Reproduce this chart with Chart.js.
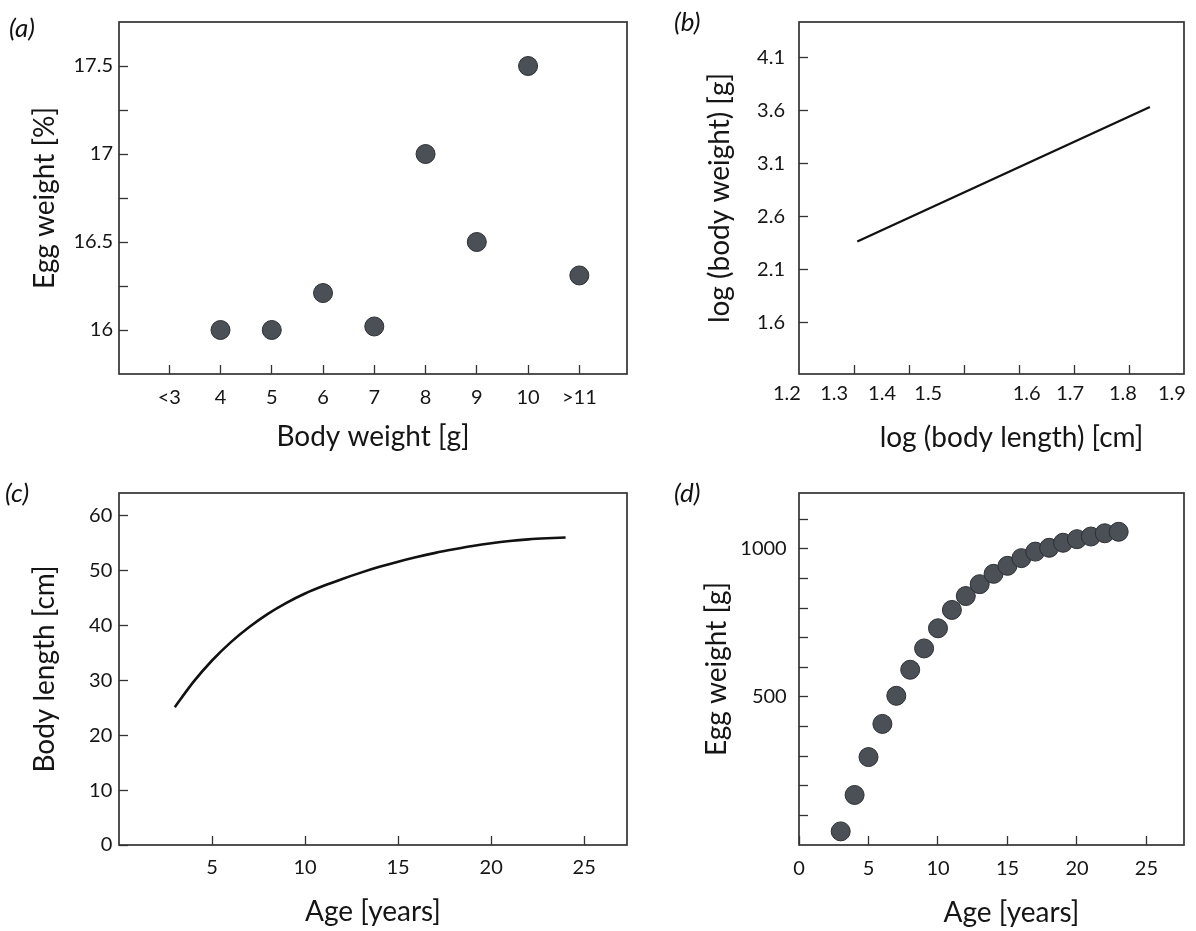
<!DOCTYPE html>
<html>
<head>
<meta charset="utf-8">
<title>Egg weight, body weight and age</title>
<script src="https://cdn.jsdelivr.net/npm/chart.js@4.4.1/dist/chart.umd.min.js"></script>
<style>
  html, body { margin: 0; padding: 0; background: #fff; }
  #page { position: relative; width: 1196px; height: 931px; }
  canvas { position: absolute; }
  .tag { position: absolute; font: italic 26px Lato, sans-serif; color: #111; line-height: 30px; }
</style>
</head>
<body>
<div id="page">
  <canvas id="chartA" width="640" height="466" style="left:0;top:0"></canvas>
  <canvas id="chartB" width="556" height="466" style="left:640px;top:0"></canvas>
  <canvas id="chartC" width="640" height="465" style="left:0;top:466px"></canvas>
  <canvas id="chartD" width="556" height="465" style="left:640px;top:466px"></canvas>
  <div class="tag" style="left:9px;top:12px">(a)</div>
  <div class="tag" style="left:674px;top:6px">(b)</div>
  <div class="tag" style="left:5px;top:477px">(c)</div>
  <div class="tag" style="left:674px;top:477px">(d)</div>
</div>
<script>
// ---- (a) egg weight [%] per body weight class
const aCategories = ['<3', '4', '5', '6', '7', '8', '9', '10', '>11'];
const aEggPct = [null, 16.0, 16.0, 16.21, 16.02, 17.0, 16.5, 17.5, 16.31];
const aYTicks = [16, 16.25, 16.5, 16.75, 17, 17.25, 17.5];
const aYLabels = ['16', '', '16.5', '', '17', '', '17.5'];

// ---- (b) log body weight vs log body length (fitted line)
const bLogLength = [1.306, 1.838];
const bLogWeight = [2.363, 3.636];
const bXTicks = [1.3, 1.4, 1.5, 1.6, 1.7, 1.8];
const bXLabels = ['1.2', '1.3', '1.4', '1.5', '1.6', '1.7', '1.8', '1.9'];
const bXLabelAt = [1.178, 1.264, 1.351, 1.435, 1.614, 1.693, 1.789, 1.878];
const bYTicks = [1.6, 2.1, 2.6, 3.1, 3.6, 4.1];

// ---- (c) body length [cm] by age
const cAge = [3, 4, 5, 6, 7, 8, 9, 10, 11, 12, 13, 14, 15, 16, 17, 18, 19, 20, 21, 22, 23, 24];
const cLength = [25.1, 29.7, 33.6, 36.9, 39.7, 42.1, 44.1, 45.8, 47.2, 48.45, 49.6, 50.65,
                 51.6, 52.45, 53.2, 53.85, 54.45, 54.95, 55.35, 55.65, 55.85, 56.0];
const cXTicks = [5, 10, 15, 20, 25];
const cYTicks = [0, 10, 20, 30, 40, 50, 60];

// ---- (d) egg weight [g] by age
const dAge = [3, 4, 5, 6, 7, 8, 9, 10, 11, 12, 13, 14, 15, 16, 17, 18, 19, 20, 21, 22, 23];
const dEggWeight = [46, 169, 297, 409, 504, 592, 664, 732, 794, 841, 881, 916, 943, 969,
                    991, 1004, 1021, 1033, 1042, 1053, 1058];
const dXTicks = [0, 5, 10, 15, 20, 25];
const dYTicks = [100, 200, 300, 400, 500, 600, 700, 800, 900, 1000, 1100];
const dYLabelled = [500, 1000];

const INK = '#151515';
const FRAME = '#333';
const DOT = '#4b4f56';
const DOT_EDGE = '#2c2f34';
const tickFont = { family: 'Lato', size: 20 };

// fixed axis sizes so every chart area lands where the original boxes are
function fixedSize(prop, size) {
  return scale => {
    scale[prop] = size;
    scale.paddingLeft = scale.paddingRight = scale.paddingTop = scale.paddingBottom = 0;
  };
}

// ticks drawn inward (negative tick length), no grid inside the plot
function axis(o) {
  const horizontal = o.position === 'bottom';
  return {
    type: 'linear',
    position: o.position,
    weight: o.weight || 0,
    min: o.min,
    max: o.max,
    afterBuildTicks: s => { s.ticks = o.ticks.map(v => ({ value: v })); },
    afterFit: fixedSize(horizontal ? 'height' : 'width', o.size),
    grid: {
      display: o.marks !== false,
      drawOnChartArea: false,
      drawTicks: o.marks !== false,
      tickLength: -9,
      tickColor: FRAME,
      tickWidth: 1.3
    },
    border: { display: false },
    ticks: {
      display: o.labels !== undefined,
      padding: o.pad,
      color: INK,
      font: tickFont,
      autoSkip: false,
      maxRotation: 0,
      callback: (v, i) => o.labels ? o.labels[i] : ''
    }
  };
}

const panelPlugin = {
  id: 'panel',
  afterDraw(chart, args, opts) {
    const { ctx, chartArea: a } = chart;
    ctx.save();
    ctx.strokeStyle = FRAME;
    ctx.lineWidth = 1.7;
    ctx.strokeRect(a.left, a.top, a.right - a.left, a.bottom - a.top);
    ctx.fillStyle = INK;
    ctx.font = '28px Lato';
    ctx.textAlign = 'center';
    ctx.textBaseline = 'middle';
    ctx.fillText(opts.xTitle, (a.left + a.right) / 2 + opts.xShift, a.bottom + opts.xGap);
    ctx.translate(a.left - opts.yGap, (a.top + a.bottom) / 2);
    ctx.rotate(-Math.PI / 2);
    ctx.fillText(opts.yTitle, 0, 0);
    ctx.restore();
  }
};

function baseOptions(padding, panel, scales) {
  return {
    responsive: false,
    animation: false,
    layout: { padding },
    plugins: { legend: { display: false }, tooltip: { enabled: false }, panel },
    scales
  };
}

const dotStyle = {
  backgroundColor: DOT,
  borderColor: DOT_EDGE,
  borderWidth: 1,
  pointRadius: 9.5,
  pointHoverRadius: 9.5
};

// (a)
new Chart(document.getElementById('chartA'), {
  type: 'scatter',
  data: {
    datasets: [{
      data: aEggPct.map((v, i) => ({ x: i, y: v })).filter(p => p.y !== null),
      ...dotStyle
    }]
  },
  options: baseOptions(
    { left: 19, right: 13, top: 22, bottom: 32 },
    { xTitle: 'Body weight [g]', yTitle: 'Egg weight [%]', xGap: 63, xShift: 0, yGap: 74 },
    {
      x: axis({ position: 'bottom', min: -0.98, max: 8.93, ticks: aCategories.map((_, i) => i),
                labels: aCategories, pad: 21, size: 60 }),
      y: axis({ position: 'left', min: 15.75, max: 17.75, ticks: aYTicks, labels: aYLabels, pad: 15, size: 100 })
    }
  ),
  plugins: [panelPlugin]
});

// (b)
new Chart(document.getElementById('chartB'), {
  type: 'scatter',
  data: {
    datasets: [{
      data: bLogLength.map((x, i) => ({ x, y: bLogWeight[i] })),
      showLine: true,
      borderColor: '#111',
      borderWidth: 2.3,
      pointRadius: 0
    }]
  },
  options: baseOptions(
    { left: 59, right: 12, top: 22, bottom: 32 },
    { xTitle: 'log (body length) [cm]', yTitle: 'log (body weight) [g]', xGap: 64, xShift: 20, yGap: 79 },
    {
      x: axis({ position: 'bottom', min: 1.2, max: 1.9, ticks: bXTicks, size: 0 }),
      x2: axis({ position: 'bottom', weight: 1, min: 1.2, max: 1.9, ticks: bXLabelAt, labels: bXLabels,
                 marks: false, pad: 7.3, size: 60 }),
      y: axis({ position: 'left', min: 1.11, max: 4.44, ticks: bYTicks,
                labels: bYTicks.map(v => v.toFixed(1)), pad: 23, size: 100 })
    }
  ),
  plugins: [panelPlugin]
});

// (c)
new Chart(document.getElementById('chartC'), {
  type: 'line',
  data: {
    datasets: [{
      data: cAge.map((x, i) => ({ x, y: cLength[i] })),
      borderColor: '#111',
      borderWidth: 2.6,
      pointRadius: 0,
      cubicInterpolationMode: 'monotone'
    }]
  },
  options: baseOptions(
    { left: 19, right: 13, top: 27, bottom: 26 },
    { xTitle: 'Age [years]', yTitle: 'Body length [cm]', xGap: 67, xShift: 0, yGap: 74 },
    {
      x: axis({ position: 'bottom', min: 0, max: 27.3, ticks: cXTicks, labels: cXTicks.map(String), pad: 20, size: 60 }),
      y: axis({ position: 'left', min: 0, max: 64.1, ticks: cYTicks, labels: cYTicks.map(String), pad: 15.7, size: 100 })
    }
  ),
  plugins: [panelPlugin]
});

// (d)
new Chart(document.getElementById('chartD'), {
  type: 'scatter',
  data: {
    datasets: [{
      data: dAge.map((x, i) => ({ x, y: dEggWeight[i] })),
      ...dotStyle
    }]
  },
  options: baseOptions(
    { left: 59, right: 12, top: 27, bottom: 26 },
    { xTitle: 'Age [years]', yTitle: 'Egg weight [g]', xGap: 68, xShift: 20, yGap: 82 },
    {
      x: axis({ position: 'bottom', min: 0, max: 27.7, ticks: dXTicks, labels: dXTicks.map(String), pad: 20.3, size: 60 }),
      y: axis({ position: 'left', min: 0, max: 1189, ticks: dYTicks,
                labels: dYTicks.map(v => dYLabelled.includes(v) ? String(v) : ''), pad: 21.3, size: 100 })
    }
  ),
  plugins: [panelPlugin]
});
</script>
</body>
</html>
